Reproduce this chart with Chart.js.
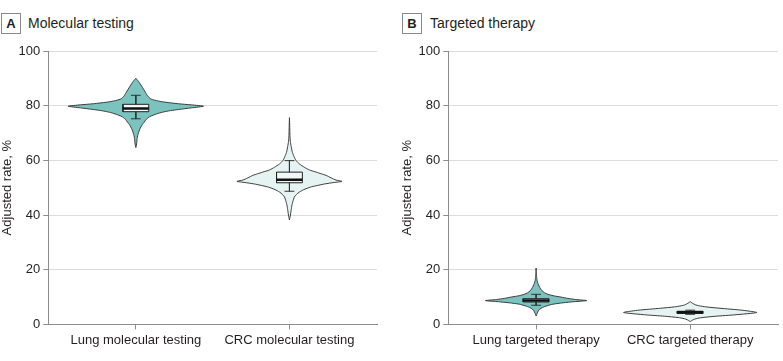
<!DOCTYPE html>
<html>
<head>
<meta charset="utf-8">
<script src="https://cdn.jsdelivr.net/npm/chart.js@4.4.1/dist/chart.umd.min.js"></script>
<style>
  html, body { margin: 0; padding: 0; background: #fff; }
  body { width: 783px; height: 361px; position: relative; overflow: hidden; font-family: "Liberation Sans", Arial, sans-serif; color: #231f20; }
  .panel { position: absolute; top: 0; height: 361px; }
  .tag { position: absolute; top: 13px; width: 18px; height: 19px; border: 1px solid #8a8a8a; font-weight: bold; font-size: 13px; line-height: 19px; text-align: center; }
  .ttl { position: absolute; top: 14px; font-size: 14px; line-height: 18px; }
</style>
</head>
<body>
<div class="tag" style="left:1px">A</div>
<div class="ttl" style="left:28px">Molecular testing</div>
<div class="tag" style="left:402px">B</div>
<div class="ttl" style="left:430px">Targeted therapy</div>
<div class="panel" style="left:0;width:390px"><canvas id="cA" width="390" height="361"></canvas></div>
<div class="panel" style="left:400px;width:383px"><canvas id="cB" width="383" height="361"></canvas></div>
<script>
// ---------- data ----------
const CATEGORIES_A = ['Lung molecular testing', 'CRC molecular testing'];
const CATEGORIES_B = ['Lung targeted therapy', 'CRC targeted therapy'];
const Y_TICKS = [0, 20, 40, 60, 80, 100];

// violin profiles: adjusted rate levels (%) and relative density at each level
const LUNG_MOL_LEVELS  = [64.7, 66, 68, 69, 70, 71.4, 73, 74, 75, 76, 77, 77.6, 78.2, 78.6, 79.2, 79.8, 80.3, 80.7, 81.4, 82, 82.5, 83.5, 84.7, 86, 87.1, 88, 88.9, 89.5, 90];
const LUNG_MOL_DENSITY = [0, 0.8, 1.3, 1.8, 2.6, 4, 6.3, 8.5, 10.5, 14, 21, 26.7, 35, 43, 56, 68.3, 56, 43, 27, 19, 15, 12, 10, 7.8, 6, 4.3, 2.7, 1.2, 0];

const CRC_MOL_LEVELS  = [38.2, 40, 42, 43.6, 45, 46.6, 47.5, 48.4, 49.3, 50.2, 50.8, 51.4, 51.9, 52.3, 52.8, 53.6, 54.5, 55.1, 55.7, 56.5, 57.5, 58.7, 59.9, 61.5, 62.9, 65, 67, 69, 72, 75.6];
const CRC_MOL_DENSITY = [0, 1, 1.8, 2.5, 3.5, 5, 7, 10, 14.5, 21, 28, 36, 45, 53, 47, 42, 37, 32, 27, 20, 15, 10, 6.7, 4.5, 3, 1.8, 0.9, 0.5, 0.3, 0];

const LUNG_TT_LEVELS  = [3.1, 4, 5, 5.5, 6.2, 6.8, 7.4, 7.9, 8.3, 8.7, 9.1, 9.5, 10, 10.5, 11, 11.6, 12.3, 13, 14, 15, 16, 17.5, 19, 20.6];
const LUNG_TT_DENSITY = [0, 1, 2.3, 3.5, 6.5, 11, 17, 27, 38, 51, 40, 32, 25, 17, 12, 8.3, 6, 4.5, 3, 1.8, 1, 0.5, 0.3, 0];

const CRC_TT_LEVELS  = [1.0, 1.4, 1.7, 2.1, 2.5, 3.0, 3.5, 4.35, 5.2, 5.9, 6.4, 6.8, 7.2, 7.6, 8.0, 8.3];
const CRC_TT_DENSITY = [0, 1.5, 3, 6, 12, 26, 45, 67, 52, 30, 16, 9, 5, 3, 1.2, 0];

// box plot stats: [lower whisker, Q1, median, Q3, upper whisker]
const LUNG_MOL_BOX = [75.2, 77.8, 79.0, 80.5, 83.8];
const CRC_MOL_BOX  = [48.7, 51.8, 52.9, 55.7, 59.9];
const LUNG_TT_BOX  = [7.0, 8.2, 8.7, 9.4, 11.0];
const CRC_TT_BOX   = [3.7, 4.0, 4.4, 4.8, 5.2];

// ---------- style ----------
const FONT = '"Liberation Sans", Arial, sans-serif';
const LUNG_FILL = '#7ac3bf';
const CRC_FILL = '#e5f4f3';
const OUTLINE = '#3c3c3c';
const BOX_FILL = '#f1f8f8';
const DENSITY_SCALE = 1 / 155;   // category units per density unit
const BOX_HALF = 0.084;
const CAP_HALF = 0.032;

function violinData(center, levels, density) {
  const pts = [];
  for (let i = 0; i < levels.length; i++) pts.push({x: center + density[i] * DENSITY_SCALE, y: levels[i]});
  for (let i = levels.length - 1; i >= 0; i--) pts.push({x: center - density[i] * DENSITY_SCALE, y: levels[i]});
  return pts;
}

function boxDatasets(center, s) {
  const [lo, q1, med, q3, hi] = s;
  return [
    { data: [{x:center-BOX_HALF,y:q1},{x:center+BOX_HALF,y:q1},{x:center+BOX_HALF,y:q3},{x:center-BOX_HALF,y:q3},{x:center-BOX_HALF,y:q1}],
      borderColor: '#222', borderWidth: 1, backgroundColor: BOX_FILL, fill: 'shape', order: 1 },
    { data: [{x:center-CAP_HALF,y:hi},{x:center+CAP_HALF,y:hi},{x:center,y:null},{x:center,y:hi},{x:center,y:q3},{x:center,y:null},
             {x:center,y:q1},{x:center,y:lo},{x:center,y:null},{x:center-CAP_HALF,y:lo},{x:center+CAP_HALF,y:lo}],
      borderColor: '#333', borderWidth: 1, fill: false, spanGaps: false, order: 0 },
    { data: [{x:center-BOX_HALF,y:med},{x:center+BOX_HALF,y:med}],
      borderColor: '#111', borderWidth: 2.5, fill: false, order: 0 }
  ];
}

function makePanel(id, categories, violins, boxes, padRight) {
  const datasets = [];
  violins.forEach((v, i) => {
    datasets.push({ data: violinData(i, v.levels, v.density), borderColor: OUTLINE, borderWidth: 1,
      backgroundColor: v.fill, fill: 'shape', tension: 0.2, order: 2 });
  });
  boxes.forEach((b, i) => boxDatasets(i, b).forEach(d => datasets.push(d)));
  datasets.forEach(d => { d.pointRadius = 0; d.pointHoverRadius = 0; if (d.tension === undefined) d.tension = 0; });

  new Chart(document.getElementById(id), {
    type: 'line',
    data: { datasets },
    options: {
      responsive: false,
      animation: false,
      events: [],
      layout: { padding: { top: 51, right: padRight, bottom: 10, left: 0 } },
      plugins: { legend: { display: false }, tooltip: { enabled: false } },
      scales: {
        x: {
          type: 'linear', min: -0.57, max: 1.57,
          afterBuildTicks: (sc) => { sc.ticks = categories.map((c, i) => ({ value: i })); },
          ticks: { callback: (v) => categories[v], color: '#231f20', font: { family: FONT, size: 13 }, padding: 3, maxRotation: 0, autoSkip: false },
          grid: { drawOnChartArea: false, drawTicks: true, tickLength: 5, tickColor: '#8c8c8c' },
          border: { display: true, color: '#8c8c8c', width: 1 }
        },
        y: {
          min: 0, max: 100,
          afterBuildTicks: (sc) => { sc.ticks = Y_TICKS.map(v => ({ value: v })); },
          ticks: { color: '#231f20', font: { family: FONT, size: 13 }, padding: 3 },
          grid: { color: (ctx) => ctx.tick && ctx.tick.value === 0 ? 'rgba(0,0,0,0)' : '#dcdcdc', tickColor: '#8c8c8c', tickLength: 5, lineWidth: 1 },
          border: { display: true, color: '#8c8c8c', width: 1 },
          title: { display: true, text: 'Adjusted rate, %', color: '#231f20', font: { family: FONT, size: 13 }, padding: { top: 0, bottom: 0 } }
        }
      }
    }
  });
}

makePanel('cA', CATEGORIES_A,
  [ { levels: LUNG_MOL_LEVELS, density: LUNG_MOL_DENSITY, fill: LUNG_FILL },
    { levels: CRC_MOL_LEVELS, density: CRC_MOL_DENSITY, fill: CRC_FILL } ],
  [ LUNG_MOL_BOX, CRC_MOL_BOX ], 13);

makePanel('cB', CATEGORIES_B,
  [ { levels: LUNG_TT_LEVELS, density: LUNG_TT_DENSITY, fill: LUNG_FILL },
    { levels: CRC_TT_LEVELS, density: CRC_TT_DENSITY, fill: CRC_FILL } ],
  [ LUNG_TT_BOX, CRC_TT_BOX ], 5);
</script>
</body>
</html>
